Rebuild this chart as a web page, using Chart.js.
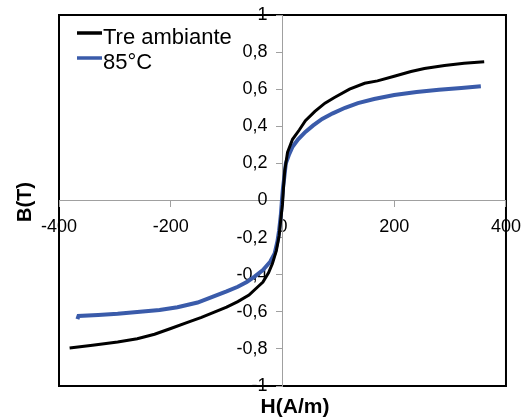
<!DOCTYPE html>
<html lang="fr">
<head>
    <meta charset="UTF-8">
    <title>B(H)</title>
    <script src="https://cdn.jsdelivr.net/npm/chart.js"></script>
    <style>
        body { margin: 0; padding: 0; background: #fff; }
        #wrap { width: 531px; height: 417px; position: relative; }
    </style>
</head>
<body>
    <div id="wrap"><canvas id="bhChart"></canvas></div>
    <script>
        // series names
        const seriesNames = ['Tre ambiante', '85°C'];

        // room temperature curve: H (A/m), B (T)
        const hAmbient = [-381, -340, -295, -260, -229, -200, -170, -145, -122, -100, -80, -60, -44, -35, -25, -18, -11, -6, -3, 0, 2, 4, 9, 18, 30, 41, 58, 76, 93, 120, 147, 170, 200, 230, 254, 290, 325, 361];
        const bAmbient = [-0.795, -0.78, -0.763, -0.745, -0.721, -0.69, -0.657, -0.63, -0.602, -0.575, -0.545, -0.51, -0.465, -0.44, -0.39, -0.34, -0.27, -0.19, -0.1, -0.02, 0.08, 0.16, 0.26, 0.33, 0.38, 0.43, 0.48, 0.525, 0.555, 0.6, 0.632, 0.645, 0.67, 0.695, 0.712, 0.728, 0.74, 0.748];

        // 85 °C curve
        const h85 = [-367, -365, -330, -295, -250, -220, -188, -152, -122, -100, -80, -64, -50, -35, -22, -14, -9, -6, -3, -1, 1, 3, 6, 12, 18, 28, 41, 55, 71, 90, 112, 135, 164, 200, 240, 280, 320, 355];
        const b85 = [-0.64, -0.622, -0.617, -0.611, -0.598, -0.59, -0.575, -0.55, -0.515, -0.49, -0.465, -0.44, -0.41, -0.375, -0.33, -0.285, -0.22, -0.16, -0.08, 0, 0.07, 0.12, 0.2, 0.25, 0.29, 0.33, 0.37, 0.405, 0.44, 0.47, 0.5, 0.525, 0.547, 0.569, 0.585, 0.597, 0.607, 0.616];

        const seriesColors = ['#000000', '#3A5BAA'];

        const toPoints = (xs, ys) => xs.map((x, i) => ({ x: x, y: ys[i] }));
        const fmt = v => String(Math.round(v * 10) / 10).replace('.', ',');
        const FONT = 'Liberation Sans, Arial, sans-serif';

        // frame round the plot area (under the tick labels)
        const frame = {
            id: 'frame',
            beforeDraw(chart) {
                const ctx = chart.ctx;
                const a = chart.chartArea;
                ctx.save();
                ctx.strokeStyle = '#000';
                ctx.lineWidth = 2;
                ctx.strokeRect(a.left, a.top, a.right - a.left, a.bottom - a.top);
                ctx.restore();
            }
        };

        // legend in the top left corner and axis titles
        const decor = {
            id: 'decor',
            afterDraw(chart) {
                const ctx = chart.ctx;
                ctx.save();
                ctx.font = '22px ' + FONT;
                ctx.textBaseline = 'alphabetic';
                ctx.textAlign = 'left';
                const rows = [[33, 44], [58, 68.5]];
                chart.data.datasets.forEach((ds, i) => {
                    ctx.strokeStyle = ds.borderColor;
                    ctx.lineWidth = 3.5;
                    ctx.beginPath();
                    ctx.moveTo(77, rows[i][0]);
                    ctx.lineTo(102, rows[i][0]);
                    ctx.stroke();
                    ctx.fillStyle = '#000';
                    ctx.fillText(ds.label, 103, rows[i][1]);
                });

                ctx.font = 'bold 21px ' + FONT;
                ctx.textAlign = 'center';
                ctx.textBaseline = 'middle';
                ctx.fillText('H(A/m)', 295, 407);
                ctx.font = 'bold 20px ' + FONT;
                ctx.translate(25, 202);
                ctx.rotate(-Math.PI / 2);
                ctx.fillText('B(T)', 0, 0);
                ctx.restore();
            }
        };

        const ctx = document.getElementById('bhChart').getContext('2d');
        new Chart(ctx, {
            type: 'scatter',
            data: {
                datasets: [
                    {
                        label: seriesNames[0],
                        data: toPoints(hAmbient, bAmbient),
                        borderColor: seriesColors[0],
                        backgroundColor: seriesColors[0],
                        borderWidth: 3,
                        showLine: true,
                        pointRadius: 0
                    },
                    {
                        label: seriesNames[1],
                        data: toPoints(h85, b85),
                        borderColor: seriesColors[1],
                        backgroundColor: seriesColors[1],
                        borderWidth: 4,
                        showLine: true,
                        pointRadius: 0
                    }
                ]
            },
            options: {
                responsive: true,
                maintainAspectRatio: false,
                animation: false,
                layout: { padding: { left: 59, top: 15, right: 17, bottom: 31 } },
                plugins: { legend: { display: false }, tooltip: { enabled: false } },
                scales: {
                    x: {
                        type: 'linear',
                        min: -400,
                        max: 400,
                        position: { y: 0 },
                        grid: { drawOnChartArea: false, color: '#a0a0a0', tickLength: 6 },
                        border: { color: '#a0a0a0', width: 1 },
                        ticks: {
                            stepSize: 200,
                            color: '#000',
                            padding: 10,
                            maxRotation: 0,
                            font: { family: FONT, size: 18 },
                            callback: v => fmt(v)
                        }
                    },
                    y: {
                        type: 'linear',
                        min: -1,
                        max: 1,
                        position: { x: 0 },
                        grid: { drawOnChartArea: false, color: '#a0a0a0', tickLength: 6 },
                        border: { color: '#a0a0a0', width: 1 },
                        ticks: {
                            stepSize: 0.2,
                            color: '#000',
                            font: { family: FONT, size: 18 },
                            // labels sit right-aligned on the axis line; spaces keep them clear of it
                            callback: v => fmt(v) + '   '
                        }
                    }
                }
            },
            plugins: [frame, decor]
        });
    </script>
</body>
</html>
